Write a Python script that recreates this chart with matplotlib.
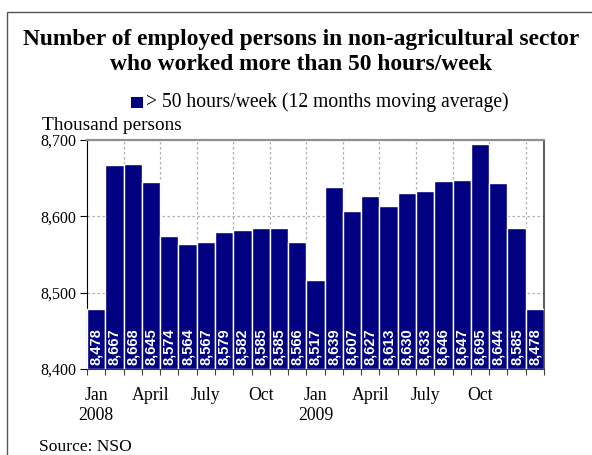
import matplotlib
matplotlib.use("Agg")
import matplotlib.pyplot as plt
from matplotlib.patches import Rectangle
import numpy as np

values = [8478, 8667, 8668, 8645, 8574, 8564, 8567, 8579, 8582, 8585, 8585, 8566,
          8517, 8639, 8607, 8627, 8613, 8630, 8633, 8646, 8647, 8695, 8644, 8585, 8478]
month_labels = ["Jan\n2008", "April", "July", "Oct", "Jan\n2009", "April", "July", "Oct"]
label_idx = [0, 3, 6, 9, 12, 15, 18, 21]
yticks = [8400, 8500, 8600, 8700]

W, H = 592, 455
fig = plt.figure(figsize=(W / 100, H / 100), dpi=100)
serif = "Liberation Serif"

# outer frame
fig.patches.append(Rectangle((6.5 / W, -0.1), 1.2, 1 - 12 / H + 0.1, transform=fig.transFigure,
                             fill=False, edgecolor="#555555", linewidth=1.0))

L, R, T, B = 87, 544, 140, 369
ax = fig.add_axes([L / W, 1 - B / H, (R - L) / W, (B - T) / H])

x = np.arange(len(values))
ax.bar(x, [v - 8400 for v in values], bottom=8400, width=1.0, color="#000080",
       edgecolor="white", linewidth=1.0, zorder=3)
ax.set_xlim(-0.5, len(values) - 0.5)
ax.set_ylim(8400, 8700)

# grid
for gx in np.arange(1.5, len(values) - 0.5, 2):
    ax.axvline(gx, color="#b0b0b0", linestyle=(0, (2, 2)), linewidth=0.9, zorder=1)
for gy in yticks[1:]:
    ax.axhline(gy, color="#b0b0b0", linestyle=(0, (2, 2)), linewidth=0.9, zorder=1)

# bar labels
for xi, v in zip(x, values):
    ax.text(xi, 8405, f"{v:,}", rotation=90, ha="center", va="bottom", color="white",
            fontsize=10.5, fontweight="bold", family="Liberation Sans", zorder=4)

# ticks
ax.set_yticks(yticks)
ax.set_yticklabels([f"{t:,}" for t in yticks], family=serif, fontsize=11.5)
ax.set_xticks(np.arange(-0.5, len(values), 1))
ax.set_xticklabels([])
ax.tick_params(axis="x", which="major", length=4, direction="out", color="#404040")
ax.tick_params(axis="y", length=5, direction="out", pad=3)
ax.set_xticks(label_idx, minor=True)
ax.set_xticklabels(month_labels, minor=True, family=serif, fontsize=12.8, linespacing=1.2)
ax.tick_params(axis="x", which="minor", length=0, pad=13)

ax.spines["left"].set_color("black")
ax.spines["bottom"].set_color("#404040")
ax.spines["right"].set_color("#404040")
ax.spines["top"].set_color("#909090")
ax.spines["top"].set_linewidth(1.6)
ax.spines["right"].set_linewidth(1.2)

# title and texts
cx = 301.5 / W
fig.text(cx, 1 - 39 / H, "Number of employed persons in non-agricultural sector",
         ha="center", va="center", family=serif, fontsize=16.9, fontweight="bold")
fig.text(cx, 1 - 64 / H, "who worked more than 50 hours/week",
         ha="center", va="center", family=serif, fontsize=16.9, fontweight="bold")
fig.patches.append(Rectangle((131 / W, 1 - 108 / H), 12 / W, 11 / H, transform=fig.transFigure,
                             facecolor="#000080", edgecolor="none"))
fig.text(146 / W, 1 - 102 / H, "> 50 hours/week (12 months moving average)",
         ha="left", va="center", family=serif, fontsize=14.1)
fig.text(42 / W, 1 - 125 / H, "Thousand persons", ha="left", va="center", family=serif, fontsize=13.9)
fig.text(39 / W, 1 - 447 / H, "Source: NSO", ha="left", va="center", family=serif, fontsize=12.6)

fig.savefig("out.png", dpi=100)
